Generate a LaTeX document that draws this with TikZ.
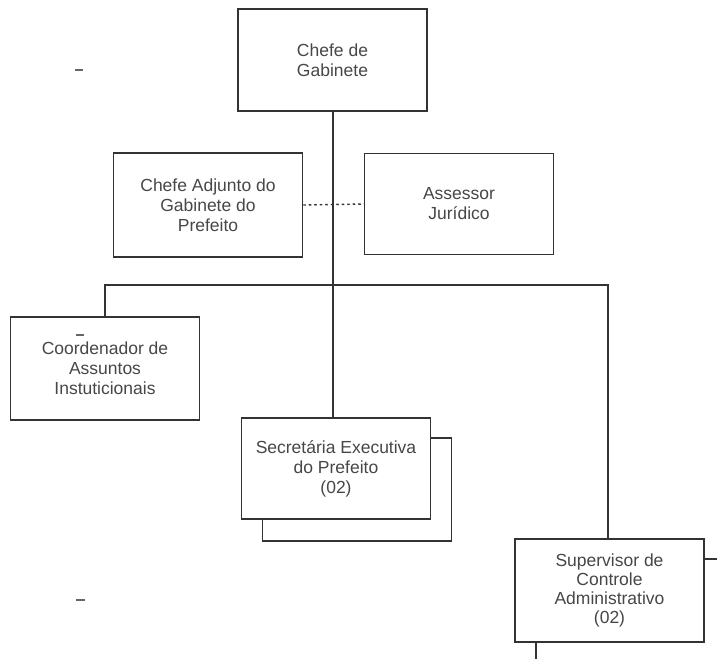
\documentclass[tikz,border=0pt]{standalone}
\usepackage{fontspec}
\setmainfont{Liberation Sans}
\begin{document}
\begin{tikzpicture}[x=1pt,y=-1pt,
  orgbox/.style={draw=black!80, line width=1.5pt, fill=white, minimum width=189pt, minimum height=102pt,
    align=center, text=black!72, inner sep=0pt,
    font=\fontsize{17.5pt}{20pt}\selectfont},
  conn/.style={draw=black!80, line width=1.4pt},
  dots/.style={draw=black!80, line width=1.4pt, dash pattern=on 2.5pt off 3pt},
  speck/.style={draw=black!60, line width=1.2pt}]
\useasboundingbox (0,0) rectangle (717,659);
\fill[white] (0,0) rectangle (717,659);

\node[orgbox] (gab) at (332.5,60) {Chefe de\\Gabinete};
\node[orgbox, minimum height=104pt] (adj) at (208,205) {Chefe Adjunto do\\Gabinete do\\Prefeito};
\node[orgbox, minimum height=101pt] (ass) at (459,204) {Assessor\\Jurídico};
\node[orgbox, minimum height=103pt] (coord) at (105,368.5) {Coordenador de\\Assuntos\\Instuticionais};
\node[orgbox, minimum height=103pt] (secb) at (357,489.5) {};
\node[orgbox, minimum height=101pt] (sec) at (336,468.5) {Secretária Executiva\\do Prefeito\\(02)};
\node[orgbox, minimum height=103pt, font=\fontsize{17.5pt}{18.7pt}\selectfont] (sup) at (609.5,590.5) {Supervisor de\\Controle\\Administrativo\\(02)};

\coordinate (barL) at (105,285);
\coordinate (barR) at (608,285);
\coordinate (barM) at (333,285);
\coordinate (outR) at (717,559);
\coordinate (outB) at (536,659);

\draw[conn] (gab.south -| barM) -- (barM) -- (barM |- sec.north);
\draw[conn] (coord.north) -- (barL) -- (barR) -- (barR |- sup.north);
\draw[dots] (adj.east) -- (ass.west);
\draw[conn] (sup.east |- outR) -- (outR);
\draw[conn] (outB |- sup.south) -- (outB);

% small scan marks
\coordinate (m1) at (75,70);
\coordinate (m2) at (83,70);
\draw[speck] (m1) -- (m2);
\coordinate (m3) at (76,335);
\coordinate (m4) at (84,335);
\draw[speck] (m3) -- (m4);
\coordinate (m5) at (76,600);
\coordinate (m6) at (85,600);
\draw[speck] (m5) -- (m6);
\end{tikzpicture}
\end{document}
